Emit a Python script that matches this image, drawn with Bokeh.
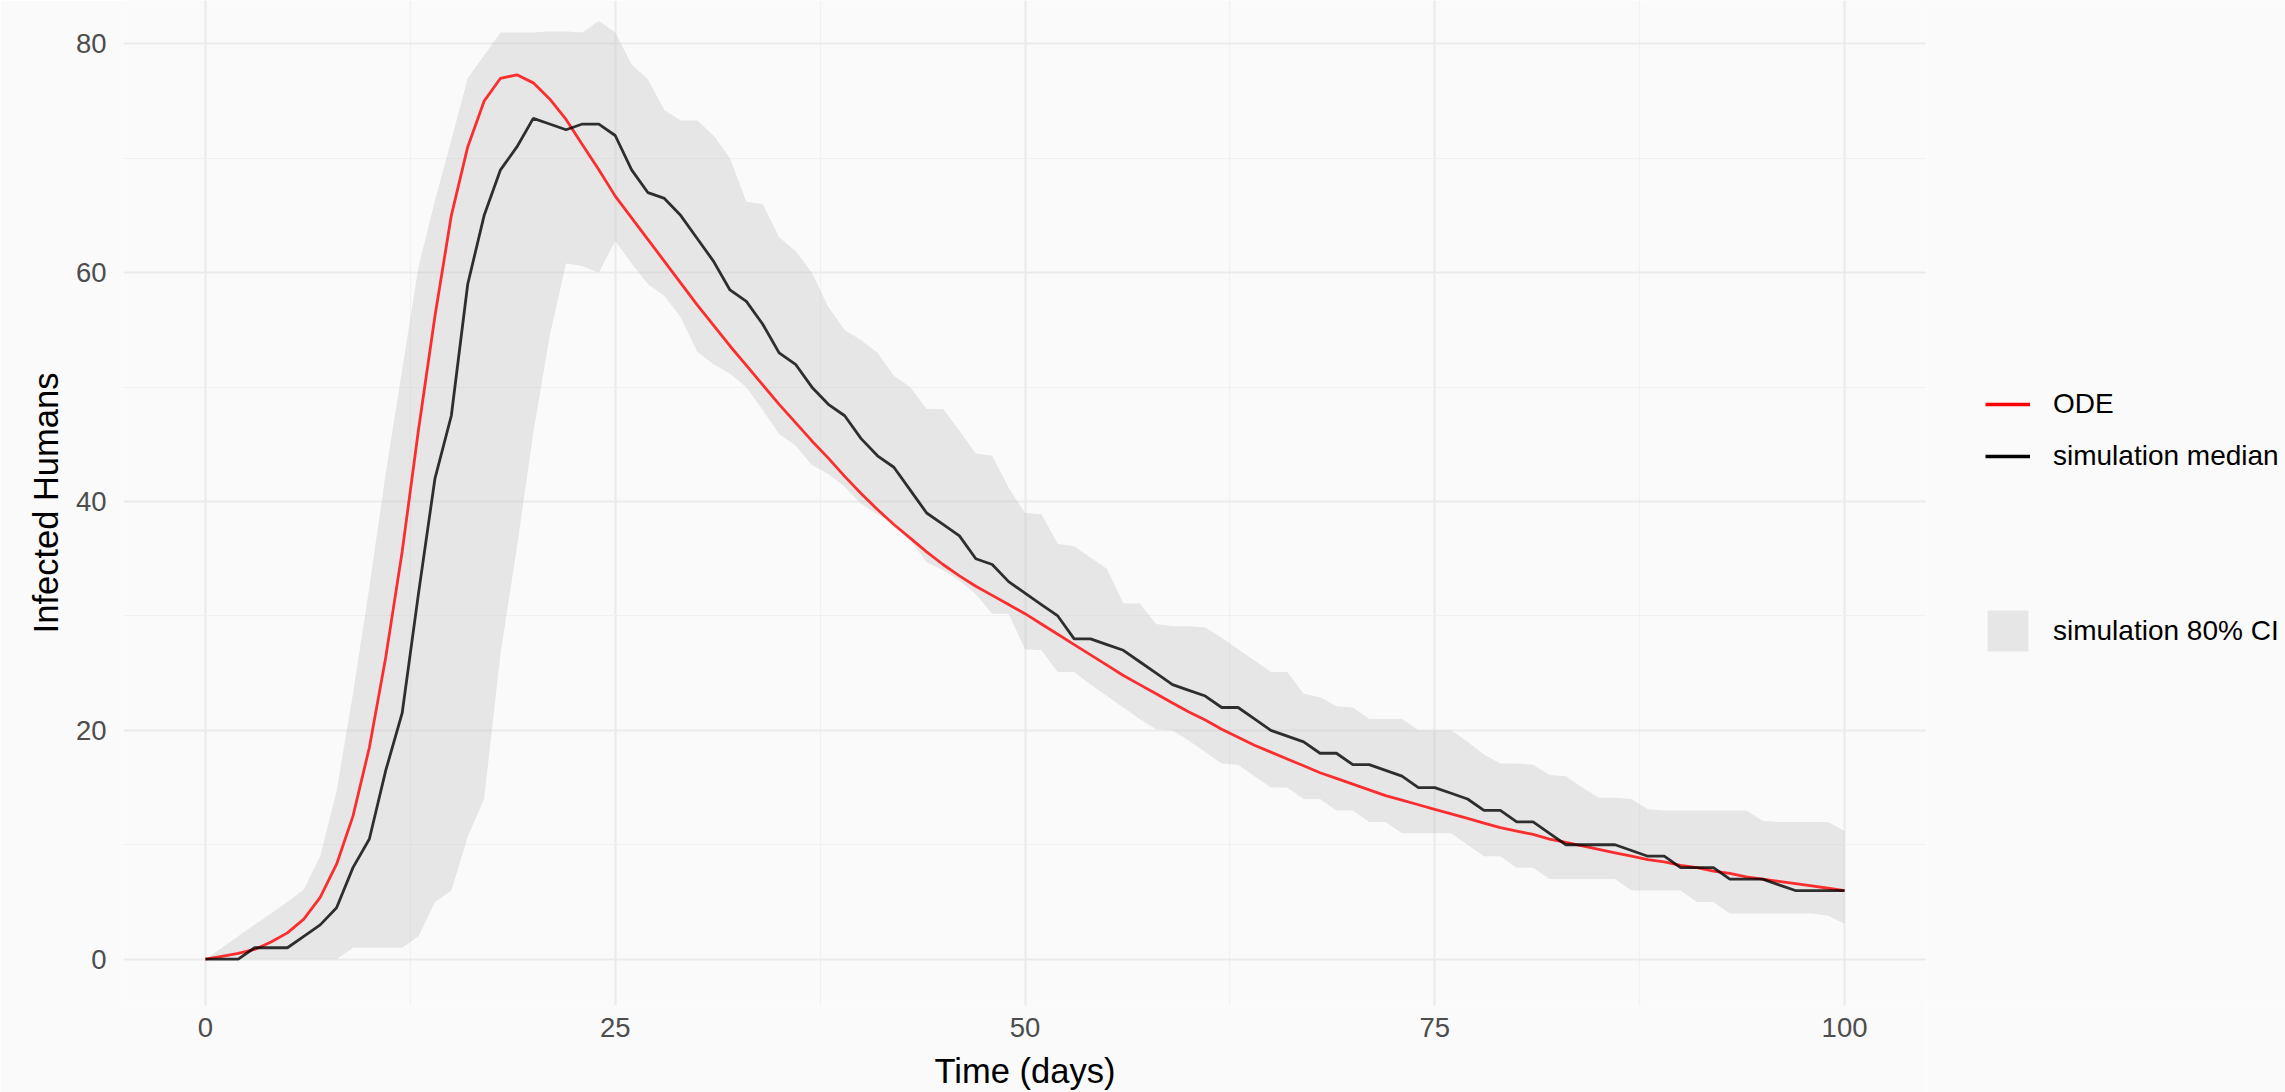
from bokeh.plotting import figure
from bokeh.layouts import row
from bokeh.models import Range1d, FixedTicker, Legend, LegendItem
from bokeh.embed import file_html
from bokeh.resources import INLINE

# ---------------- data ----------------
days = list(range(0, 101))

ode = [0.0, 0.25, 0.5, 0.85, 1.5, 2.3, 3.5, 5.4, 8.3, 12.5,
       18.5, 26.4, 35.6, 46.3, 56.2, 65.0, 71.0, 75.0, 77.0, 77.3,
       76.6, 75.2, 73.4, 71.2, 69.0, 66.7, 64.8, 62.9, 61.0, 59.1,
       57.2, 55.4, 53.6, 51.9, 50.2, 48.5, 46.9, 45.3, 43.8, 42.2,
       40.7, 39.3, 38.0, 36.8, 35.6, 34.5, 33.5, 32.6, 31.8, 31.0,
       30.2, 29.3, 28.4, 27.5, 26.6, 25.7, 24.8, 24.0, 23.2, 22.4,
       21.6, 20.9, 20.1, 19.4, 18.7, 18.1, 17.5, 16.9, 16.3, 15.8,
       15.3, 14.8, 14.3, 13.9, 13.5, 13.1, 12.7, 12.3, 11.9, 11.5,
       11.2, 10.9, 10.5, 10.2, 9.9, 9.6, 9.3, 9.0, 8.7, 8.5,
       8.2, 8.0, 7.7, 7.5, 7.2, 7.0, 6.8, 6.6, 6.4, 6.2,
       6.0]

median = [0, 0, 0, 1, 1, 1, 2, 3, 4.5, 8,
          10.5, 16.5, 21.5, 32, 42, 47.5, 59, 65, 69, 71,
          73.5, 73, 72.5, 73, 73, 72, 69, 67, 66.5, 65,
          63, 61, 58.5, 57.5, 55.5, 53, 52, 50, 48.5, 47.5,
          45.5, 44, 43, 41, 39, 38, 37, 35, 34.5, 33,
          32, 31, 30, 28, 28, 27.5, 27, 26, 25, 24,
          23.5, 23, 22, 22, 21, 20, 19.5, 19, 18, 18,
          17, 17, 16.5, 16, 15, 15, 14.5, 14, 13, 13,
          12, 12, 11, 10, 10, 10, 10, 9.5, 9, 9,
          8, 8, 8, 7, 7, 7, 6.5, 6, 6, 6,
          6]

ci_upper = [0, 1, 2, 3, 4, 5, 6.1, 9, 14.7, 23.2,
            32.5, 42.5, 51.5, 60.5, 66.3, 71.6, 77, 79, 81, 81,
            81, 81.1, 81.1, 81, 82, 81, 78.2, 76.9, 74.2, 73.3,
            73.3, 72, 70, 66.2, 66, 63.1, 61.9, 60, 57, 55,
            54.1, 53, 51, 50, 48.1, 48.1, 46.2, 44.2, 44, 41.2,
            39, 38.9, 36.3, 36.1, 35.1, 34.1, 31.1, 31.1, 29.3, 29.1,
            29.1, 29, 28.1, 27.1, 26.1, 25.1, 25.1, 23.2, 22.9, 22.1,
            22, 21, 21, 21, 20, 20, 20, 19, 17.9, 17.1,
            17.1, 17, 16.1, 16, 15, 14.1, 14.1, 14, 13.1, 13,
            13, 13, 13, 13, 13, 12.1, 12, 12, 12, 12,
            11.2]

ci_lower = [0, 0, 0, 0, 0, 0, 0, 0, 0, 1,
            1, 1, 1, 2, 5, 6, 10.7, 14, 26.7, 36,
            46, 54.5, 60.8, 60.6, 60, 62.8, 60.8, 59, 58, 56.1,
            53.1, 52, 51.2, 50, 48, 45.9, 44.9, 43.2, 42.4, 41.3,
            39.8, 38.9, 38.1, 36.6, 34.7, 34, 33.1, 31.9, 30.2, 30.2,
            27.1, 27, 25.1, 25.1, 24, 23, 22, 21, 20.1, 20,
            19.1, 18.1, 17.1, 17, 16, 15, 15, 14, 14, 13,
            13, 12, 12, 11, 11, 11, 11, 10, 9, 9,
            8, 8, 7, 7, 7, 7, 7, 6, 6, 6,
            6, 5, 5, 4, 4, 4, 4, 4, 4, 3.8,
            3.1]

x_ticks = [0, 25, 50, 75, 100]
x_minor = [12.5, 37.5, 62.5, 87.5]
y_ticks = [0, 20, 40, 60, 80]
y_minor = [10, 30, 50, 70]

labels = ["ODE", "simulation median", "simulation 80% CI"]

# ---------------- main figure ----------------
FONT = "Liberation Sans"
BG = "#FAFAFA"
NAN = float("nan")

p = figure(frame_width=1803, frame_height=1005,
           x_range=Range1d(-5, 105), y_range=Range1d(-4.05, 83.8),
           output_backend="svg", toolbar_location=None,
           min_border_left=123, min_border_right=0,
           min_border_top=0, min_border_bottom=87)
p.background_fill_color = BG
p.border_fill_color = BG
p.outline_line_color = None

for g in (p.xgrid, p.ygrid):
    g.grid_line_color = "#EBEBEB"
    g.grid_line_width = 2.2
    g.minor_grid_line_color = "#F1F1F1"
    g.minor_grid_line_width = 1.2

p.xaxis.ticker = FixedTicker(ticks=x_ticks, minor_ticks=x_minor)
p.yaxis.ticker = FixedTicker(ticks=y_ticks, minor_ticks=y_minor)

for ax in (p.xaxis, p.yaxis):
    ax.axis_line_color = None
    ax.major_tick_line_color = None
    ax.minor_tick_line_color = None
    ax.major_tick_out = 0
    ax.major_tick_in = 0
    ax.minor_tick_out = 0
    ax.minor_tick_in = 0
    ax.major_label_text_font = FONT
    ax.major_label_text_font_size = "27.5px"
    ax.major_label_text_color = "#4D4D4D"
    ax.axis_label_text_font = FONT
    ax.axis_label_text_font_size = "34.5px"
    ax.axis_label_text_font_style = "normal"
    ax.axis_label_text_color = "#000000"

p.xaxis.axis_label = "Time (days)"
p.yaxis.axis_label = "Infected Humans"
p.xaxis.major_label_standoff = 12
p.xaxis.axis_label_standoff = 12
p.yaxis.major_label_standoff = 17
p.yaxis.axis_label_standoff = 8

p.varea(x=days, y1=ci_lower, y2=ci_upper, fill_color="#BEBEBE", fill_alpha=0.34)
p.line(x=days, y=ode, line_color="red", line_alpha=0.8, line_width=2.8)
p.line(x=days, y=median, line_color="black", line_alpha=0.8, line_width=2.8)

# ---------------- legend panel (right) ----------------
lp = figure(width=359, height=1092, x_range=Range1d(0, 1), y_range=Range1d(0, 1),
            x_axis_type=None, y_axis_type=None,
            output_backend="svg", toolbar_location=None, min_border=0)
lp.background_fill_color = BG
lp.border_fill_color = BG
lp.outline_line_color = None

# key renderers: a single NaN point so nothing is drawn in the panel itself
k_ode = lp.line(x=[NAN], y=[NAN], line_color="#FF0000", line_width=3.6)
k_med = lp.line(x=[NAN], y=[NAN], line_color="#000000", line_width=3.6)
k_ci = lp.varea(x=[NAN], y1=[NAN], y2=[NAN], fill_color="#E6E6E6")

leg1 = Legend(items=[LegendItem(label=labels[0], renderers=[k_ode]),
                     LegendItem(label=labels[1], renderers=[k_med])],
              location=(59, 533))
leg2 = Legend(items=[LegendItem(label=labels[2], renderers=[k_ci])],
              location=(56, 349))
for lg, gw, gh, so in ((leg1, 45, 30, 23), (leg2, 51, 51, 20)):
    lg.glyph_width = gw
    lg.glyph_height = gh
    lg.label_height = gh
    lg.label_standoff = so
    lg.spacing = 20
    lg.padding = 0
    lg.margin = 0
    lg.border_line_color = None
    lg.background_fill_alpha = 0
    lg.label_text_font = FONT
    lg.label_text_font_size = "28px"
    lg.label_text_color = "#000000"
    lp.add_layout(lg)

layout = row(p, lp, spacing=0)
open("out.html", "w").write(file_html(layout, INLINE))
